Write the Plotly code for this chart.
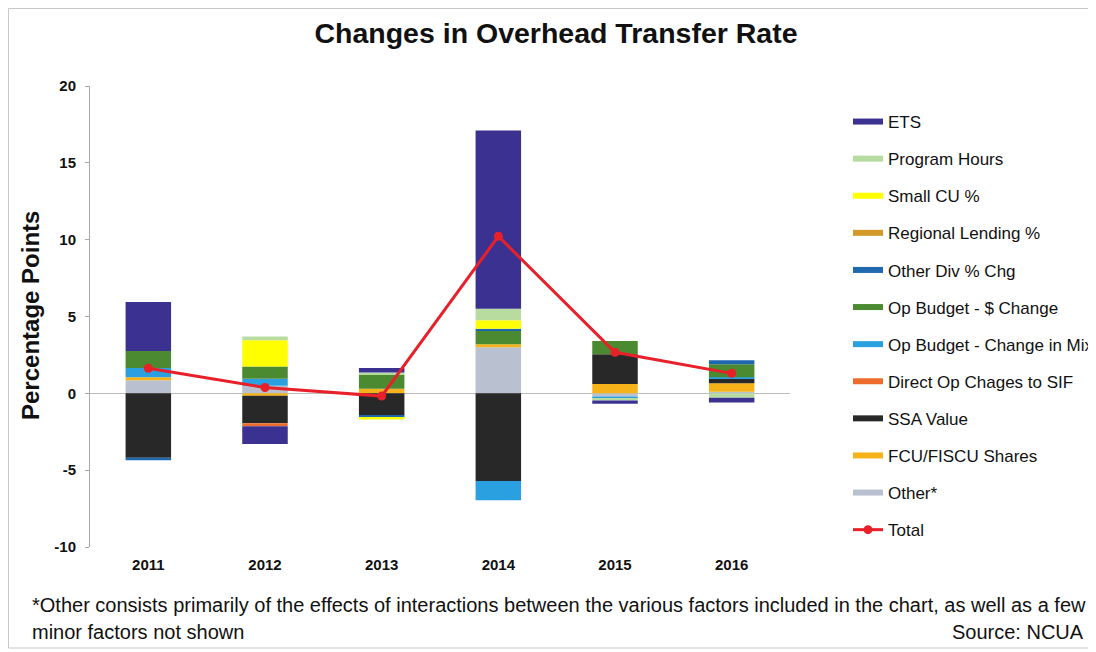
import plotly.graph_objects as go

years = ["2011", "2012", "2013", "2014", "2015", "2016"]

# Component series (stacking order from the zero line outward)
other        = [0.85, 0.50, 0.00, 3.00, -0.20, 0.10]
fcu_shares   = [0.20, -0.15, 0.30, 0.20, 0.60, 0.55]
ssa_value    = [-4.20, -1.80, -1.45, -5.70, 1.95, 0.30]
direct_op    = [0.00, -0.20, 0.00, 0.00, 0.00, 0.00]
op_mix       = [0.60, 0.45, 0.00, -1.25, -0.15, 0.10]
op_dollar    = [1.10, 0.80, 0.90, 0.85, 0.85, 0.85]
other_div    = [-0.15, 0.00, -0.13, 0.15, 0.00, 0.25]
regional     = [0.00, 0.00, 0.00, 0.00, 0.00, 0.00]
small_cu     = [0.00, 1.70, -0.12, 0.55, 0.00, 0.00]
program_hrs  = [0.00, 0.25, 0.15, 0.75, -0.12, -0.28]
ets          = [3.20, -1.15, 0.30, 11.60, -0.20, -0.32]
total        = [1.63, 0.38, -0.18, 10.22, 2.67, 1.30]

y_tickvals = [-10, -5, 0, 5, 10, 15, 20]
y_ticktext = ["-10", "-5", "0", "5", "10", "15", "20"]

series = [
    ("Other*", other, "#b9c0cf"),
    ("FCU/FISCU Shares", fcu_shares, "#f6b319"),
    ("SSA Value", ssa_value, "#282828"),
    ("Direct Op Chages to SIF", direct_op, "#ee6c2c"),
    ("Op Budget - Change in Mix", op_mix, "#2aa0e0"),
    ("Op Budget - $ Change", op_dollar, "#4b8a30"),
    ("Other Div % Chg", other_div, "#1f68ad"),
    ("Regional Lending %", regional, "#d39a2a"),
    ("Small CU %", small_cu, "#ffff00"),
    ("Program Hours", program_hrs, "#b8dca0"),
    ("ETS", ets, "#3b3190"),
]
legend_order = ["ETS", "Program Hours", "Small CU %", "Regional Lending %",
                "Other Div % Chg", "Op Budget - $ Change", "Op Budget - Change in Mix",
                "Direct Op Chages to SIF", "SSA Value", "FCU/FISCU Shares", "Other*"]

FONT = "Liberation Sans, Arial, sans-serif"
INK = "#111111"
fig = go.Figure()

for name, vals, color in series:
    fig.add_trace(go.Bar(
        x=years, y=vals, name=name, marker=dict(color=color, line=dict(width=0)),
        showlegend=False, legendgroup=name,
    ))
    # legend swatch as a thick line, like the original
    fig.add_trace(go.Scatter(
        x=[None], y=[None], mode="lines", name=name, legendgroup=name,
        line=dict(color=color, width=6), legendrank=legend_order.index(name) + 1,
    ))

fig.add_trace(go.Scatter(
    x=years, y=total, name="Total", mode="lines+markers", legendgroup="Total",
    line=dict(color="#e8202a", width=3), marker=dict(color="#e8202a", size=9),
    legendrank=20,
))

# The page body has an 8px default margin, so the figure is 8px smaller
W, H = 1088, 644
L, T, PW, PH = 82, 78, 700, 461
fig.update_layout(
    width=W, height=H,
    paper_bgcolor="white", plot_bgcolor="white",
    barmode="relative", bargap=0.61,
    margin=dict(l=L, r=W - L - PW, t=T, b=H - T - PH, autoexpand=False),
    font=dict(family=FONT, color=INK),
    title=dict(text="<b>Changes in Overhead Transfer Rate</b>",
               font=dict(size=28.5, family=FONT, color=INK),
               x=548 / W, xanchor="center", y=1 - 25 / H, yanchor="middle",
               xref="container", yref="container"),
    xaxis=dict(showline=False, showgrid=False, zeroline=False, ticks="",
               tickfont=dict(size=15, family=FONT, color=INK, weight="bold"),
               ticklabelstandoff=7),
    yaxis=dict(range=[-10, 20], tickvals=y_tickvals, ticktext=y_ticktext, showgrid=False,
               showline=True, linecolor="#aaaaaa", linewidth=1,
               ticks="outside", ticklen=4, tickcolor="#aaaaaa",
               zeroline=True, zerolinecolor="#bbbbbb", zerolinewidth=1,
               tickfont=dict(size=15, family=FONT, color=INK, weight="bold"),
               ticklabelstandoff=6),
    legend=dict(x=(840 - L) / PW, xanchor="left", y=(T + PH - 96) / PH, yanchor="top",
                traceorder="grouped", tracegroupgap=12,
                font=dict(size=17, family=FONT, color=INK),
                bgcolor="rgba(0,0,0,0)"),
    showlegend=True,
)

fig.add_annotation(text="<b>Percentage Points</b>", textangle=-90,
                   xref="paper", yref="paper", x=(30 - 90) / 700, y=(547 - 316) / 461,
                   xanchor="center", yanchor="middle", showarrow=False,
                   font=dict(size=24, family=FONT, color=INK))

FOOT = 20
fig.add_annotation(text="*Other consists primarily of the effects of interactions between the various factors included in the chart, as well as a few",
                   xref="paper", yref="paper", x=(30 - 90) / 700, y=(547 - 605) / 461,
                   xanchor="left", yanchor="middle", showarrow=False,
                   font=dict(size=FOOT, family=FONT, color=INK))
fig.add_annotation(text="minor factors not shown",
                   xref="paper", yref="paper", x=(30 - 90) / 700, y=(547 - 632) / 461,
                   xanchor="left", yanchor="middle", showarrow=False,
                   font=dict(size=FOOT, family=FONT, color=INK))
fig.add_annotation(text="Source: NCUA",
                   xref="paper", yref="paper", x=(1086 - 90) / 700, y=(547 - 632) / 461,
                   xanchor="right", yanchor="middle", showarrow=False,
                   font=dict(size=FOOT, family=FONT, color=INK))

# light frame around the whole chart
fig.add_shape(type="rect", xref="paper", yref="paper",
              x0=(8.5 - 90) / 700, x1=(1093 - 90) / 700,
              y0=(547 - 648) / 461, y1=(547 - 8.5) / 461,
              line=dict(color="#c8c8c8", width=1), fillcolor="rgba(0,0,0,0)", layer="below")

fig.write_html("out.html")
